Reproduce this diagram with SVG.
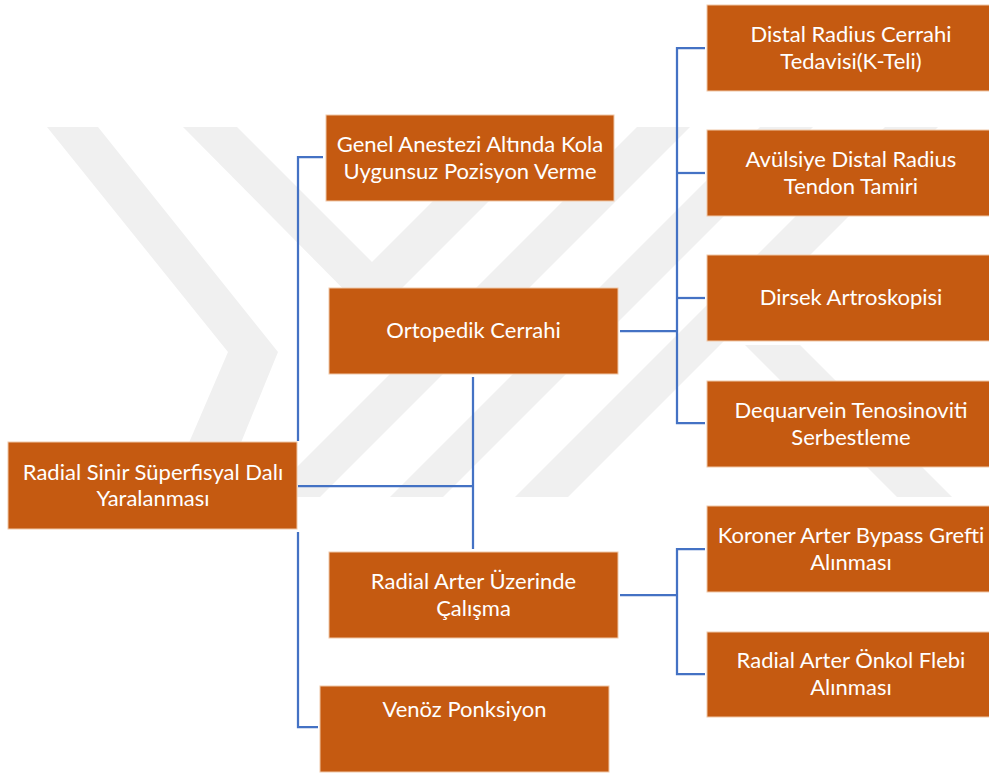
<svg xmlns="http://www.w3.org/2000/svg" width="989" height="773" viewBox="0 0 989 773">
<style>
.box{fill:#C55A11;stroke:#F0C8A8;stroke-width:1}
.t{fill:#ffffff;font-family:Lato,"Liberation Sans",sans-serif;font-size:22px;text-anchor:middle}
.c{fill:none;stroke:#4472C4;stroke-width:2.25}
.wm{fill:#f0f0f0}
</style>
<rect width="989" height="773" fill="#ffffff"/>
<g id="watermark">
<polygon class="wm" points="47,127 98,127 278,352 240,445 188,445 228,352"/>
<polygon class="wm" points="183,127 237,127 372,262 507,127 563,127 372,318"/>
<polygon class="wm" points="637,127 690,127 320,497 267,497"/>
<polygon class="wm" points="760,127 813,127 443,497 390,497"/>
<polygon class="wm" points="885,127 938,127 568,497 515,497"/>
<polygon class="wm" points="745,345 800,345 952,497 897,497"/>
</g>
<g id="connectors">
<polyline class="c" points="323,157 298,157 298,441"/>
<polyline class="c" points="298,532 298,727 318,727"/>
<polyline class="c" points="298,486 473,486"/>
<line class="c" x1="473" y1="377" x2="473" y2="549"/>
<line class="c" x1="620" y1="331" x2="677" y2="331"/>
<polyline class="c" points="705,48 677,48 677,423 705,423"/>
<line class="c" x1="677" y1="173" x2="705" y2="173"/>
<line class="c" x1="677" y1="298" x2="705" y2="298"/>
<line class="c" x1="620" y1="595" x2="677" y2="595"/>
<polyline class="c" points="705,549 677,549 677,674 705,674"/>
</g>
<g id="root">
<rect class="box" x="8" y="442" width="289" height="87"/>
<text class="t" x="153" y="480">Radial Sinir Süperfisyal Dalı</text>
<text class="t" x="153" y="506">Yaralanması</text>
</g>
<g id="genel">
<rect class="box" x="326" y="115" width="288" height="86"/>
<text class="t" x="470" y="152">Genel Anestezi Altında Kola</text>
<text class="t" x="470" y="179">Uygunsuz Pozisyon Verme</text>
</g>
<g id="ortopedik">
<rect class="box" x="329" y="288" width="289" height="86"/>
<text class="t" x="473.5" y="338">Ortopedik Cerrahi</text>
</g>
<g id="radialarter">
<rect class="box" x="329" y="552" width="289" height="86"/>
<text class="t" x="473.5" y="589">Radial Arter Üzerinde</text>
<text class="t" x="473.5" y="616">Çalışma</text>
</g>
<g id="venoz">
<rect class="box" x="320" y="686" width="289" height="86"/>
<text class="t" x="464.5" y="717">Venöz Ponksiyon</text>
</g>
<g id="distal">
<rect class="box" x="707" y="5" width="288" height="86"/>
<text class="t" x="851" y="42">Distal Radius Cerrahi</text>
<text class="t" x="851" y="69">Tedavisi(K-Teli)</text>
</g>
<g id="avulsiye">
<rect class="box" x="707" y="130" width="288" height="86"/>
<text class="t" x="851" y="167">Avülsiye Distal Radius</text>
<text class="t" x="851" y="194">Tendon Tamiri</text>
</g>
<g id="dirsek">
<rect class="box" x="707" y="255" width="288" height="86"/>
<text class="t" x="851" y="305">Dirsek Artroskopisi</text>
</g>
<g id="dequarvein">
<rect class="box" x="707" y="381" width="288" height="86"/>
<text class="t" x="851" y="418">Dequarvein Tenosinoviti</text>
<text class="t" x="851" y="445">Serbestleme</text>
</g>
<g id="koroner">
<rect class="box" x="707" y="506" width="288" height="86"/>
<text class="t" x="851" y="543">Koroner Arter Bypass Grefti</text>
<text class="t" x="851" y="570">Alınması</text>
</g>
<g id="onkol">
<rect class="box" x="707" y="632" width="288" height="85"/>
<text class="t" x="851" y="668">Radial Arter Önkol Flebi</text>
<text class="t" x="851" y="695">Alınması</text>
</g>
</svg>
